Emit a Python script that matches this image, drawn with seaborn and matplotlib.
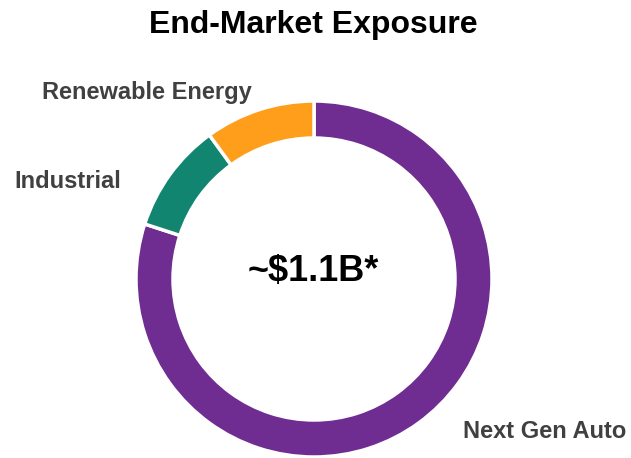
import matplotlib
matplotlib.use("Agg")
import matplotlib.pyplot as plt
import seaborn as sns

sns.set_theme(style="white")
plt.rcParams['font.family'] = ['Liberation Sans', 'DejaVu Sans']

categories = ["Next Gen Auto", "Industrial", "Renewable Energy"]
values = [80, 10, 10]
colors = ["#6F2C91", "#128570", "#FF9E1B"]
title = "End-Market Exposure"
center_text = "~$1.1B*"

W, H = 631, 458
fig = plt.figure(figsize=(W / 100, H / 100), dpi=100)
ax = fig.add_axes([0, 0, 1, 1])
ax.set_xlim(0, W)
ax.set_ylim(0, H)
ax.set_aspect("equal")
ax.axis("off")

cx, cy, R = 314, H - 279, 178
ax.pie(values, colors=colors, startangle=90, counterclock=False,
       center=(cx, cy), radius=R, frame=True,
       wedgeprops=dict(width=37, edgecolor="white", linewidth=2.5))
ax.set_xlim(0, W)
ax.set_ylim(0, H)
ax.axis("off")

lab_color = "#404040"
ax.text(463, H - 432, categories[0], fontsize=17, fontweight="bold", color=lab_color, ha="left", va="center")
ax.text(14, H - 182, categories[1], fontsize=17, fontweight="bold", color=lab_color, ha="left", va="center")
ax.text(42, H - 93, categories[2], fontsize=17, fontweight="bold", color=lab_color, ha="left", va="center")
ax.text(313, H - 25, title, fontsize=23, fontweight="bold", color="black", ha="center", va="center")
ax.text(313, H - 272, center_text, fontsize=26, fontweight="bold", color="black", ha="center", va="center")

fig.savefig("out.png", dpi=100)
